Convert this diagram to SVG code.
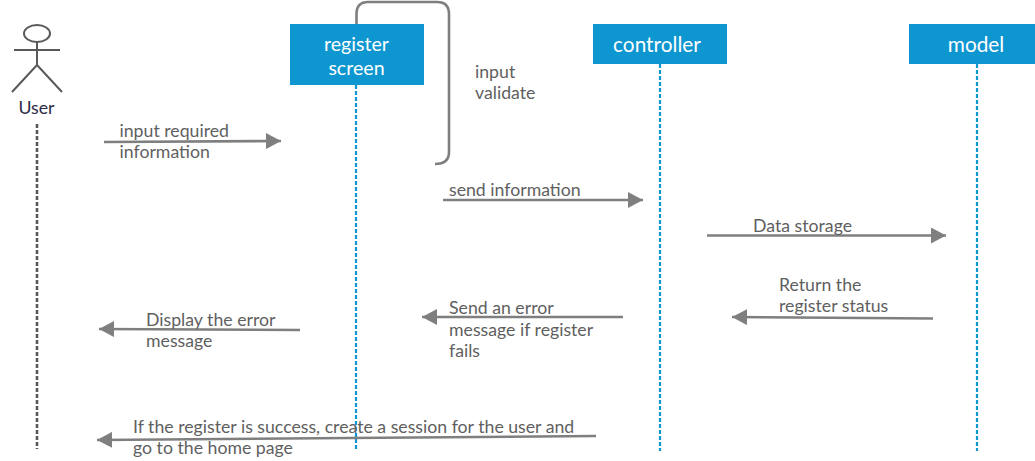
<svg xmlns="http://www.w3.org/2000/svg" width="1035" height="461" viewBox="0 0 1035 461">
<style>
text{font-family:Lato,"Open Sans",sans-serif;font-size:17.700px;fill:#5f5f5f}
.box{fill:#0e96d1}
.bt{fill:#fff;font-size:20.800px;text-anchor:middle}
.life{stroke:#0e96d1;stroke-width:2.200;stroke-dasharray:4 2;fill:none}
.msg{stroke:#7f7f7f;stroke-width:2.600;fill:none;marker-end:url(#a)}
</style>
<defs><marker id="a" markerUnits="userSpaceOnUse" markerWidth="16" markerHeight="16" refX="15" refY="8" orient="auto"><path d="M0 0L15 8L0 16Z" fill="#7f7f7f"/></marker></defs>
<rect width="1035" height="461" fill="#fff"/>
<g id="lifelines">
<path class="life" d="M356 85V451M660 64V451M977 64V451"/>
<path d="M37 124V449" stroke="#595959" stroke-width="2.600" stroke-dasharray="4 2" fill="none"/>
</g>
<g id="connectors">
<path d="M356.500 25V14Q356.500 2 368 2H437Q449 2 449 14V152Q449 164 435 164" fill="none" stroke="#7f7f7f" stroke-width="2.600"/>
<path class="msg" d="M104 142L281 141"/>
<path class="msg" d="M443 200H643"/>
<path class="msg" d="M707 235.500H946"/>
<path class="msg" d="M933 318.500L732 317"/>
<path class="msg" d="M623 317H422"/>
<path class="msg" d="M300 330L99 329"/>
<path class="msg" d="M596 436L97 440"/>
</g>
<g id="user">
<ellipse cx="37" cy="33.500" rx="13" ry="8.500" fill="none" stroke="#595959" stroke-width="2"/>
<path d="M37 42V65M14 50H60M12 92L37 65L62 92" fill="none" stroke="#595959" stroke-width="2"/>
<text x="36.500" y="114" text-anchor="middle" style="fill:#2b2b45">User</text>
</g>
<g id="register-screen"><rect class="box" x="290" y="24" width="134" height="61"/><text class="bt" x="356.500" y="50.500" style="font-size:19.600px">register</text><text class="bt" x="356.500" y="74.500" style="font-size:19.600px">screen</text></g>
<g id="controller"><rect class="box" x="593" y="24" width="134" height="40"/><text class="bt" x="657" y="51.500">controller</text></g>
<g id="model"><rect class="box" x="909" y="24" width="126" height="40"/><text class="bt" x="976" y="51.500">model</text></g>
<g id="labels">
<text x="119.500" y="137">input required</text><text x="119.500" y="158">information</text>
<text x="475" y="78">input</text><text x="475" y="99">validate</text>
<text x="449" y="196">send information</text>
<text x="753" y="231.500">Data storage</text>
<text x="779" y="290.500">Return the</text><text x="779" y="312">register status</text>
<text x="449" y="314">Send an error</text><text x="449" y="336">message if register</text><text x="449" y="357">fails</text>
<text x="146" y="326">Display the error</text><text x="146" y="347">message</text>
<text x="133" y="432.500">If the register is success, create a session for the user and</text><text x="133" y="454">go to the home page</text>
</g>
</svg>
